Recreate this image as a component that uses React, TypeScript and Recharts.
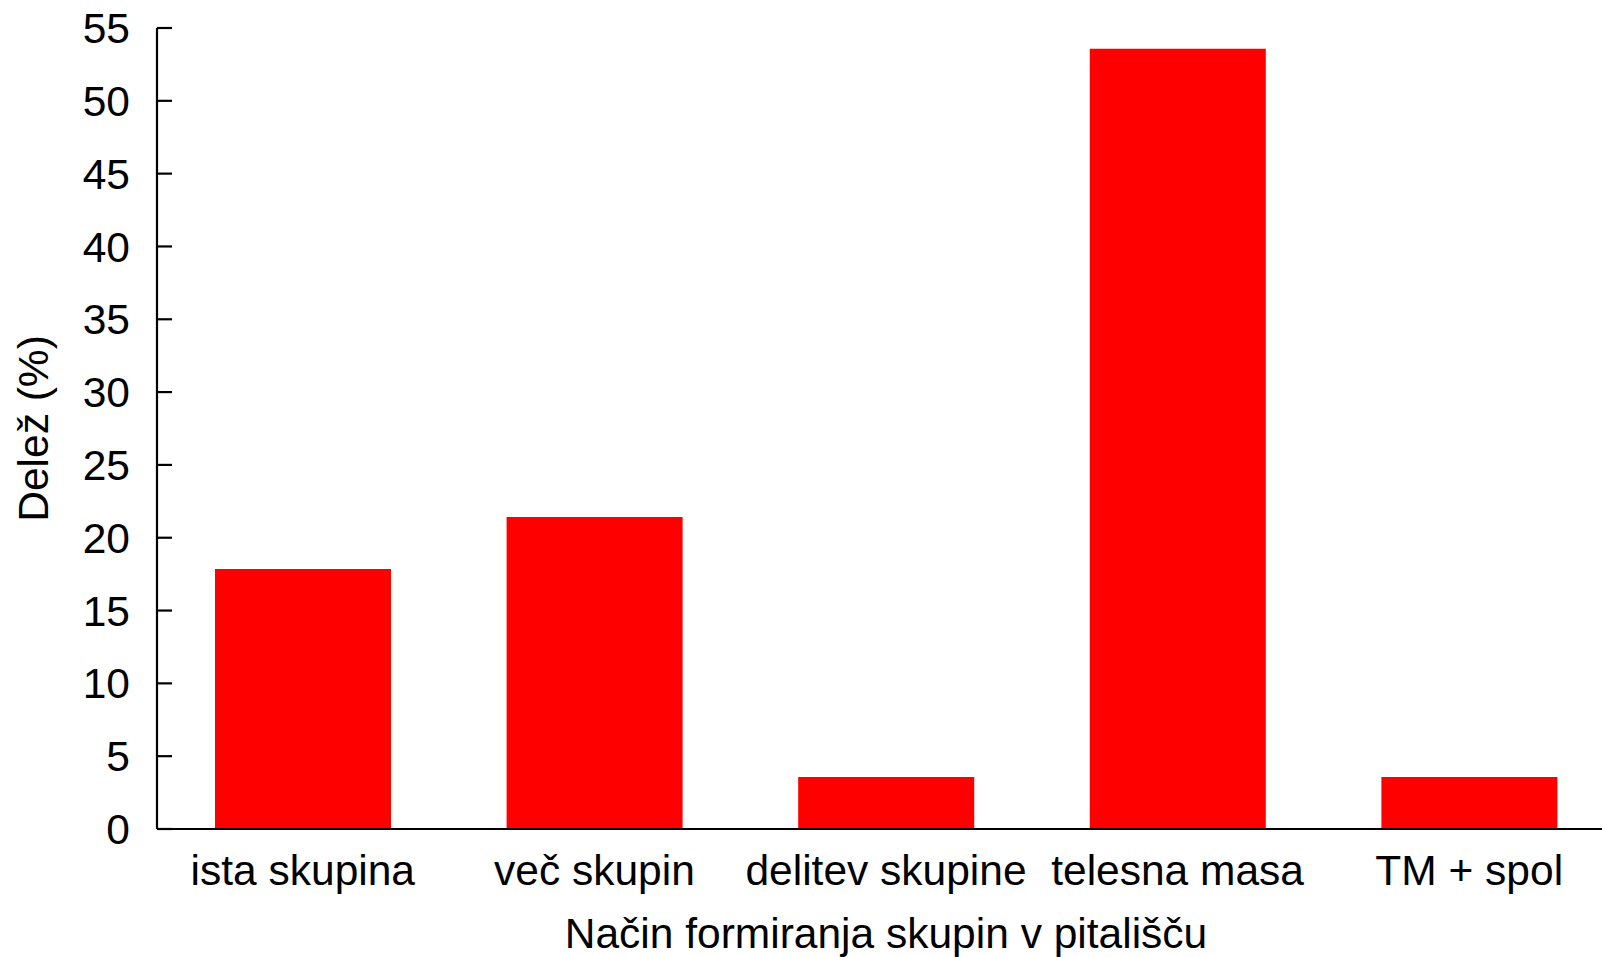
import React from "react";
import { Bar, BarChart, XAxis, YAxis } from "recharts";

const categories = ["ista skupina", "več skupin", "delitev skupine", "telesna masa", "TM + spol"];
const shares = [17.86, 21.43, 3.57, 53.57, 3.57];
const yTicks = [0, 5, 10, 15, 20, 25, 30, 35, 40, 45, 50, 55];

const xTitle = "Način formiranja skupin v pitališču";
const yTitle = "Delež (%)";

const FONT = "'Liberation Sans', Arial, Helvetica, sans-serif";
const FS = 42.5;

const data = categories.map((name, i) => ({ name, value: shares[i] }));

function YTitle(props: any) {
  const vb = props.viewBox || { x: 0, y: 0, width: 0, height: 0 };
  const cx = vb.x + 48;
  const cy = vb.y + vb.height / 2;
  return (
    <text
      x={cx}
      y={cy}
      transform={`rotate(-90 ${cx} ${cy})`}
      textAnchor="middle"
      fill="#000"
      fontSize={FS}
      fontFamily={FONT}
    >
      {yTitle}
    </text>
  );
}

export default function App() {
  return (
    <div
      style={{
        position: "absolute",
        left: 0,
        top: 0,
        width: 1602,
        height: 957,
        overflow: "hidden",
        background: "#fff",
        fontFamily: FONT,
      }}
    >
      <BarChart
        width={1615}
        height={957}
        data={data}
        margin={{ top: 28, right: 0, left: 0, bottom: 0 }}
        barSize={176}
      >
        <XAxis
          dataKey="name"
          interval={0}
          axisLine={{ stroke: "#000", strokeWidth: 2.2 }}
          tickLine={false}
          tickSize={6}
          tickMargin={20}
          height={128}
          tick={{ fill: "#000", fontSize: FS, fontFamily: FONT }}
          label={{
            value: xTitle,
            position: "insideBottom",
            offset: 9,
            fill: "#000",
            fontSize: FS,
            fontFamily: FONT,
          }}
        />
        <YAxis
          width={157}
          domain={[0, 55]}
          ticks={yTicks}
          interval={0}
          axisLine={{ stroke: "#000", strokeWidth: 2.2 }}
          tickLine={{ stroke: "#000", strokeWidth: 2.2 }}
          tickSize={-15}
          tickMargin={42}
          tick={{ fill: "#000", fontSize: FS, fontFamily: FONT }}
          label={<YTitle />}
        />
        <Bar dataKey="value" fill="#ff0000" isAnimationActive={false} />
      </BarChart>
    </div>
  );
}
